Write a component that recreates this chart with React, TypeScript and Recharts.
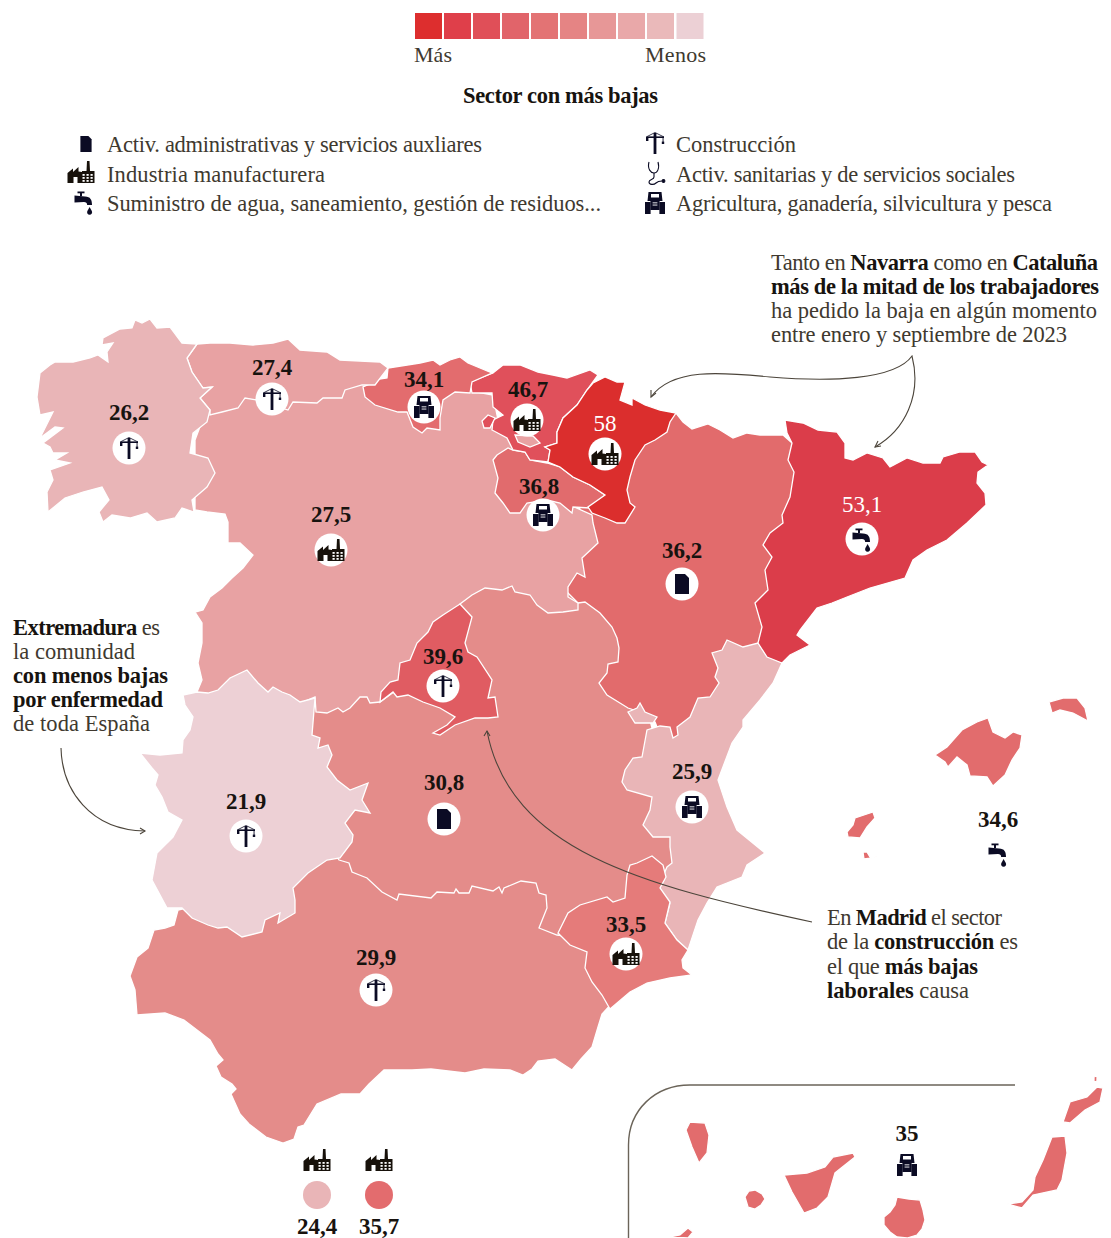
import React from "react";
import { ScatterChart, Scatter, XAxis, YAxis } from "recharts";

type Pt = { x: number; y: number };
type Sector = "doc" | "factory" | "tap" | "crane" | "tractor" | "steth";

const WIDTH = 1111;
const HEIGHT = 1238;
const SERIF = "'Liberation Serif', serif";
const INK = "#17130f";
const NAVY = "#0b0b24";
const SOFT = "#40392f";

// outlines, as flat x,y runs in picture units
const andalucia = [178,910,174,925,165,928,154,930,148,948,137,957,130,976,135,990,137,1015,165,1013,184,1020,210,1040,218,1054,223,1060,216,1066,221,1077,232,1084,236,1089,231,1094,240,1114,249,1124,266,1137,283,1143,294,1139,298,1127,304,1125,317,1104,341,1094,360,1094,369,1084,384,1070,412,1070,431,1069,465,1073,484,1069,510,1070,523,1075,532,1069,538,1061,555,1059,572,1070,581,1059,592,1047,598,1027,602,1014,615,1000,650,960,620,900,560,880,400,850,320,850,220,900];
const castillaMancha = [339,860,349,863,352,872,367,878,382,892,397,900,399,894,431,898,437,892,454,893,456,889,459,893,469,893,472,886,493,891,499,887,502,893,504,888,521,881,536,883,539,893,546,895,547,908,539,928,557,935,600,940,650,890,680,855,680,800,660,760,650,720,640,650,600,600,470,560,450,650,300,700,300,800];
const aragon = [676,413,683,422,692,429,708,424,720,430,733,438,747,433,760,435,783,435,800,450,800,500,790,600,785,645,750,670,700,720,690,735,660,745,657,727,655,722,640,712,628,708,607,695,599,683,607,673,608,664,618,662,619,648,617,638,612,627,600,613,585,602,578,603,560,585,560,540,585,500,620,470,640,440];
const castillaLeon = [195,510,207,512,225,514,228,522,228,543,240,543,253,555,243,568,232,578,222,588,210,597,203,610,195,612,202,623,202,643,198,663,202,680,197,692,260,720,315,697,316,712,327,713,338,708,343,712,350,708,360,697,367,697,370,703,380,702,410,680,440,640,460,604,472,595,485,588,502,590,512,586,515,592,530,595,537,605,548,613,563,612,578,610,578,603,568,597,568,587,577,573,585,577,582,558,598,543,593,523,592,515,570,505,560,480,500,430,493,395,440,385,280,380,210,400,195,440];
const extremadura = [140,753,152,768,158,775,155,785,162,797,168,812,182,820,173,837,157,853,152,880,167,908,182,908,192,918,208,925,218,928,227,927,242,937,262,932,265,920,280,913,278,923,295,913,295,900,293,888,308,873,327,860,340,858,352,842,353,835,345,823,355,810,370,813,362,800,368,783,350,790,337,780,327,767,332,755,328,745,318,748,320,738,312,735,315,698,300,702,290,695,282,692,273,687,268,692,258,683,247,670,230,678,218,690,208,693,197,692,183,695,185,705,193,717,190,730,183,740,182,753,160,755];
const madrid = [460,604,472,617,465,643,468,652,477,657,492,680,488,698,495,697,498,717,488,718,475,718,455,725,440,735,433,733,447,725,455,717,440,708,423,702,408,695,397,697,393,692,380,702,381,692,390,682,398,680,400,663,410,660,417,643,428,632,433,622,443,615];
const valencia = [782,663,773,683,760,700,743,720,743,727,732,743,718,780,727,807,737,830,765,853,747,865,742,877,717,887,707,903,698,920,688,950,677,940,665,923,670,903,660,895,660,883,667,867,672,863,670,847,670,837,653,837,643,825,650,810,652,797,627,790,622,782,625,770,633,758,642,757,647,730,660,726,670,727,673,738,678,735,677,727,690,717,698,698,710,697,719,683,715,677,718,668,712,653,722,650,727,640,743,647,758,643,765,653];
const ademuz = [628,712,637,708,640,703,645,712,657,717,653,723,635,723];
const murcia = [630,865,637,863,652,856,663,865,666,877,660,888,670,902,665,923,677,940,688,950,682,960,683,968,692,975,670,978,647,983,630,992,610,1009,602,995,592,982,585,968,587,952,570,945,558,933,568,913,580,905,607,897,613,902,625,898,627,875];
const cataluna = [785,420,803,423,818,430,837,432,845,443,845,458,853,460,867,453,883,458,890,467,907,458,923,463,940,463,943,457,960,452,975,452,982,462,988,465,978,472,977,483,985,493,986,505,967,523,947,540,927,550,913,560,905,578,870,588,847,597,832,603,817,608,800,630,797,635,810,645,790,655,782,663,767,657,758,643,762,627,755,603,768,590,765,570,772,557,763,545,770,533,783,523,782,515,790,497,794,472,788,460,792,443,787,433];
const rioja = [497,455,508,448,513,450,525,452,530,460,547,463,560,467,573,477,590,485,605,495,590,508,573,507,572,513,560,503,547,500,527,503,520,513,510,513,503,503,495,493,498,478,493,460];
const paisVasco = [472,393,470,382,493,373,503,365,520,365,538,372,553,375,567,378,590,370,598,375,587,390,577,405,563,418,557,432,557,443,545,447,550,450,548,462,530,460,525,452,513,450,507,438,492,430,493,420,503,415,493,407,492,393];
const trevino = [515,435,533,436,540,443,530,447,518,442];
const orduna = [482,421,488,415,495,418,490,428,484,428];
const navarra = [593,383,605,377,617,382,625,382,620,400,632,405,632,398,645,405,660,410,676,413,670,422,667,432,655,440,645,445,635,460,630,477,627,490,630,503,635,507,625,523,617,523,605,518,592,513,588,507,605,495,590,485,573,477,560,467,548,462,550,450,545,447,557,443,557,432,563,418,577,405,587,390];
const cantabria = [388,368,387,378,373,380,372,383,363,387,365,397,375,405,398,412,407,412,413,427,422,433,427,428,440,430,440,418,443,400,455,392,470,393,472,382,492,373,468,363,460,357,450,360,440,365,433,360,420,363];
const asturias = [197,344,210,343,230,343,253,345,273,343,288,339,300,350,327,352,340,360,380,362,388,368,375,385,362,385,345,390,342,398,323,398,317,403,293,402,288,410,257,400,245,398,238,408,222,412,210,415,210,410,200,398,212,387,203,388,192,372,187,358];
const galicia = [40,373,50,365,55,362,73,362,90,358,98,355,108,362,107,352,113,343,102,345,103,338,120,329,132,328,135,320,142,323,150,319,157,328,170,327,182,343,197,344,187,358,192,372,203,388,212,387,200,398,210,410,207,422,193,433,190,453,208,458,215,473,207,487,192,500,194,512,182,508,175,518,157,522,147,513,130,518,112,515,103,522,99,512,109,500,102,487,83,492,65,498,48,512,47,492,53,480,50,470,70,463,55,460,67,453,53,453,50,447,43,443,63,428,55,427,40,438,53,412,40,415,37,397];
const mallorca = [935,755,947,747,962,730,977,722,988,718,993,732,1005,738,1013,732,1022,735,1020,748,1012,760,1005,775,993,786,987,777,970,776,967,765,957,757,948,767,945,762];
const menorca = [1049,702,1063,698,1077,698,1085,708,1088,721,1073,713,1060,710,1052,713];
const ibiza = [847,832,853,825,855,818,873,812,875,818,867,827,860,838,848,837];
const formentera = [863,852,867,852,870,857,877,856,872,858,864,859];
const laPalma = [686,1130,690,1122,705,1123,709,1135,707,1153,699,1163,692,1147];
const gomera = [745,1197,749,1191,755,1190,762,1194,765,1199,761,1205,755,1209,748,1207];
const tenerife = [784,1175,807,1173,825,1167,833,1157,853,1153,855,1157,835,1173,828,1197,817,1208,804,1213,792,1192];
const granCanaria = [897,1197,909,1199,920,1200,923,1210,925,1220,922,1229,917,1235,907,1238,897,1237,890,1232,884,1225,884,1217,890,1212,895,1205];
const hierro = [669,1237,680,1235,688,1228,693,1232,688,1238];
const lanzarote = [1063,1122,1070,1102,1087,1097,1097,1087,1103,1088,1100,1102,1085,1110,1070,1123];
const graciosa = [1094,1077,1097,1076,1097,1081,1094,1082];
const fuerteventura = [1052,1137,1065,1136,1067,1153,1062,1180,1057,1190,1033,1195,1022,1208,1007,1204,1022,1202,1033,1190,1035,1177,1043,1160];

// bottom layers first, each region draws the border it shares with the ones below
const regionLayers: [string, number[], string][] = [
  ["Andalucía", andalucia, "#e48c8a"],
  ["Castilla-La Mancha", castillaMancha, "#e48c8a"],
  ["Aragón", aragon, "#e26b6c"],
  ["Castilla y León", castillaLeon, "#e8a2a3"],
  ["Extremadura", extremadura, "#edd0d5"],
  ["Madrid", madrid, "#e05c62"],
  ["Valencia", valencia, "#e9b5b7"],
  ["Rincón de Ademuz", ademuz, "#e9b5b7"],
  ["Murcia", murcia, "#e57b7a"],
  ["Cataluña", cataluna, "#db3d4a"],
  ["La Rioja", rioja, "#e16b6d"],
  ["País Vasco", paisVasco, "#e0505b"],
  ["Treviño", trevino, "#e8a2a3"],
  ["Orduña", orduna, "#e0505b"],
  ["Navarra", navarra, "#db2e2d"],
  ["Cantabria", cantabria, "#e36c6e"],
  ["Asturias", asturias, "#e8a2a3"],
  ["Galicia", galicia, "#e9b5b7"],
  ["Mallorca", mallorca, "#e26c6d"],
  ["Menorca", menorca, "#e26c6d"],
  ["Ibiza", ibiza, "#e26c6d"],
  ["Formentera", formentera, "#e26c6d"],
  ["La Palma", laPalma, "#e26c6d"],
  ["La Gomera", gomera, "#e26c6d"],
  ["Tenerife", tenerife, "#e26c6d"],
  ["Gran Canaria", granCanaria, "#e26c6d"],
  ["El Hierro", hierro, "#e26c6d"],
  ["Lanzarote", lanzarote, "#e26c6d"],
  ["La Graciosa", graciosa, "#e26c6d"],
  ["Fuerteventura", fuerteventura, "#e26c6d"],
];

const markerValues = ["26,2", "27,4", "34,1", "46,7", "58", "36,8", "27,5", "36,2", "53,1", "39,6", "21,9", "30,8", "25,9", "33,5", "29,9"];
const markerSectors: Sector[] = ["crane", "crane", "tractor", "factory", "factory", "tractor", "factory", "doc", "tap", "crane", "crane", "doc", "tractor", "factory", "crane"];
const markerX = [129, 272, 424, 527, 605, 543, 331, 682, 862, 443, 246, 444, 692, 626, 376];
const markerY = [448, 399, 407, 420, 454, 515, 550, 584, 539, 686, 836, 819, 807, 954, 990];
const labelX = [129, 272, 424, 528, 605, 539, 331, 682, 862, 443, 246, 444, 692, 626, 376];
const labelBase = [420, 375, 387, 397, 431, 494, 522, 558, 512, 664, 809, 790, 779, 932, 965];
const lightLabels = ["58", "53,1"];

const scaleColors = ["#dd2e2e", "#df3f4a", "#e04f58", "#e1646a", "#e37374", "#e58484", "#e79797", "#e9a8a9", "#eab9ba", "#ecd0d5"];
const scaleX = [428.5, 457.5, 486.5, 515.5, 544.5, 573.5, 602.5, 631.5, 660.5, 690];

const sectorNames: Sector[] = ["doc", "factory", "tap", "crane", "steth", "tractor"];
const sectorLabels = [
  "Activ. administrativas y servicios auxliares",
  "Industria manufacturera",
  "Suministro de agua, saneamiento, gestión de residuos...",
  "Construcción",
  "Activ. sanitarias y de servicios sociales",
  "Agricultura, ganadería, silvicultura y pesca",
];
const sectorIconX = [86, 81, 84, 655, 656, 655];
const sectorIconY = [144, 172, 202, 143, 173, 203];
const sectorTextX = [107, 107, 107, 676, 676, 676];
const sectorTextY = [152, 182, 211, 152, 182, 211];
const sectorTextW = [375, 218, 494, 120, 339, 376];

const noteNavarra = ["Tanto en **Navarra** como en **Cataluña**", "**más de la mitad de los trabajadores**", "ha pedido la baja en algún momento", "entre enero y septiembre de 2023"];
const noteNavarraW = [327, 328, 326, 296];
const noteExtremadura = ["**Extremadura** es", "la comunidad", "**con menos bajas**", "**por enfermedad**", "de toda España"];
const noteExtremaduraW = [147, 122, 155, 150, 137];
const noteMadrid = ["En **Madrid** el sector", "de la **construcción** es", "el que **más bajas**", "**laborales** causa"];
const noteMadridW = [175, 191, 151, 142];

const toPoints = (run: number[]): Pt[] => {
  const pts: Pt[] = [];
  for (let i = 0; i < run.length; i += 2) pts.push({ x: run[i], y: run[i + 1] });
  return pts;
};

const Icon = ({ kind, x, y, scale = 1 }: { kind: Sector; x: number; y: number; scale?: number }) => {
  const t = `translate(${x} ${y}) scale(${scale})`;
  if (kind === "doc") {
    return <path transform={t} fill={NAVY} d="M-7 -10H3L7 -6V10H-7Z" />;
  }
  if (kind === "factory") {
    return (
      <g transform={t}>
        <path fill="#17110a" d="M-13.5 11V1L-8 -3.5V0L-2.5 -5V-0.5L1 0V-1H5.5L6 -11H8.5L9 -1H13.5V11H-3.5V5H-7.5V11Z" />
        {[1.5, 5.5, 9.5].map((wx) =>
          [2, 5, 8].map((wy) => <rect key={`${wx}-${wy}`} x={wx} y={wy} width={2.2} height={1.8} fill="#fff" />),
        )}
      </g>
    );
  }
  if (kind === "crane") {
    return (
      <g transform={t} fill={NAVY} stroke="none">
        <rect x={-1.4} y={-10} width={2.8} height={21} />
        <rect x={-9} y={-6.6} width={18} height={1.6} />
        <rect x={-9} y={-6} width={2.4} height={4} />
        <path d="M0 -10.5L9 -6" stroke={NAVY} strokeWidth={0.8} fill="none" />
        <path d="M0 -10.5L-8 -6.4" stroke={NAVY} strokeWidth={0.8} fill="none" />
        <rect x={7.6} y={-5} width={0.9} height={4} />
        <rect x={6.8} y={-1.4} width={2.4} height={2.4} />
      </g>
    );
  }
  if (kind === "tap") {
    return (
      <g transform={t} fill={NAVY}>
        <rect x={-6.5} y={-10.5} width={7} height={1.8} />
        <rect x={-4} y={-10} width={2} height={4} />
        <path d="M-9.5 -6.5L1 -5.5C6.5 -5.5 8 -2 8 3H3.2C3 0.8 2 0 0 0L-9.5 0.6Z" />
        <path d="M5.6 5L7.8 9A2.5 2.5 0 1 1 3.4 9Z" />
      </g>
    );
  }
  if (kind === "tractor") {
    return (
      <g transform={t} fill={NAVY}>
        <path fillRule="evenodd" d="M-6.5 -11H6.5L7.5 -2H-7.5ZM-4 -9V-5.5H4V-9Z" />
        <rect x={-10} y={-1} width={5.6} height={12} />
        <rect x={4.4} y={-1} width={5.6} height={12} />
        <rect x={-4.6} y={-2} width={9.2} height={9} />
        <rect x={-2.4} y={-0.6} width={4.8} height={0.9} fill="#fff" />
        <rect x={-2.4} y={1.6} width={4.8} height={0.9} fill="#fff" />
      </g>
    );
  }
  return (
    <g transform={t} fill="none" stroke={NAVY} strokeWidth={1.1}>
      <path d="M-7 -11C-9 -4 -5 0 -2 0C1 0 4 -4 2 -11" />
      <path d="M-2 0V4C-2 7 -7 6 -7 9C-7 12 -2 12 0 10C2 8 4 8 6 8" />
      <circle cx={7.5} cy={8} r={1.4} fill={NAVY} />
    </g>
  );
};

const RichText = ({ lines, widths, x, y, step, size }: { lines: string[]; widths: number[]; x: number; y: number; step: number; size: number }) => (
  <g>
    {lines.map((line, i) => (
      <text key={i} x={x} y={y + i * step} fontFamily={SERIF} fontSize={size} fill={SOFT} textLength={widths[i]} lengthAdjust="spacing">
        {line.split("**").map((part, j) =>
          j % 2 ? (
            <tspan key={j} fontWeight={700} fill={INK}>
              {part}
            </tspan>
          ) : (
            <tspan key={j}>{part}</tspan>
          ),
        )}
      </text>
    ))}
  </g>
);

const Arrow = ({ d }: { d: string }) => <path d={d} fill="none" stroke="#4c453b" strokeWidth={1.1} />;

const markerData = markerValues.map((value, i) => ({
  x: markerX[i],
  y: markerY[i],
  value,
  sector: markerSectors[i],
  labelX: labelX[i],
  labelBase: labelBase[i],
}));
const islandData = [
  { x: 998, y: 854, value: "34,6", sector: "tap" as Sector, base: 827 },
  { x: 907, y: 1165, value: "35", sector: "tractor" as Sector, base: 1141 },
];
const cityData = [
  { x: 317, y: 1195, value: "24,4", fill: "#e9b5b7" },
  { x: 379, y: 1195, value: "35,7", fill: "#e36c6e" },
];
const scaleData = scaleColors.map((fill, i) => ({ x: scaleX[i], y: 26, fill }));
const sectorData = sectorNames.map((sector, i) => ({
  x: sectorIconX[i],
  y: sectorIconY[i],
  sector,
  label: sectorLabels[i],
  textX: sectorTextX[i],
  textY: sectorTextY[i],
  textW: sectorTextW[i],
}));

const noShape = () => <g />;

const MarkerShape = (props: any) => {
  const { cx, cy, payload } = props;
  const light = lightLabels.includes(payload.value);
  return (
    <g>
      <circle cx={cx} cy={cy} r={16.5} fill="#fff" />
      <Icon kind={payload.sector} x={cx} y={cy} />
      <text x={payload.labelX} y={payload.labelBase} textAnchor="middle" fontFamily={SERIF} fontSize={23} fontWeight={light ? 400 : 700} fill={light ? "#fff" : INK}>
        {payload.value}
      </text>
    </g>
  );
};

const IslandShape = (props: any) => {
  const { cx, cy, payload } = props;
  return (
    <g>
      <Icon kind={payload.sector} x={cx} y={cy} />
      <text x={cx} y={payload.base} textAnchor="middle" fontFamily={SERIF} fontSize={23} fontWeight={700} fill={INK}>
        {payload.value}
      </text>
    </g>
  );
};

const CityShape = (props: any) => {
  const { cx, cy, payload } = props;
  return (
    <g>
      <Icon kind="factory" x={cx} y={cy - 35} />
      <circle cx={cx} cy={cy} r={14} fill={payload.fill} />
      <text x={cx} y={cy + 39} textAnchor="middle" fontFamily={SERIF} fontSize={23} fontWeight={700} fill={INK}>
        {payload.value}
      </text>
    </g>
  );
};

const ScaleShape = (props: any) => {
  const { cx, cy, payload } = props;
  return <rect x={cx - 13.5} y={cy - 13} width={27} height={26} fill={payload.fill} />;
};

const SectorShape = (props: any) => {
  const { cx, cy, payload } = props;
  return (
    <g>
      <Icon kind={payload.sector} x={cx} y={cy} scale={payload.sector === "doc" ? 0.8 : 1} />
      <text x={payload.textX} y={payload.textY} fontFamily={SERIF} fontSize={22.5} fill={SOFT} textLength={payload.textW} lengthAdjust="spacing">
        {payload.label}
      </text>
    </g>
  );
};

// arrows, inset frame and notes go above the map
const OverlayShape = () => (
  <g>
    <text x={414} y={62} fontFamily={SERIF} fontSize={22} fill={SOFT} textLength={38}>Más</text>
    <text x={645} y={62} fontFamily={SERIF} fontSize={22} fill={SOFT} textLength={61}>Menos</text>
    <text x={463} y={103} fontFamily={SERIF} fontSize={22.5} fontWeight={700} fill={INK} textLength={195}>Sector con más bajas</text>
    <RichText lines={noteNavarra} widths={noteNavarraW} x={771} y={270} step={24} size={22.5} />
    <RichText lines={noteExtremadura} widths={noteExtremaduraW} x={13} y={635} step={24} size={22.5} />
    <RichText lines={noteMadrid} widths={noteMadridW} x={827} y={925} step={24.3} size={22.5} />
    <Arrow d="M651 397C672 368 720 372 770 377C830 382 895 380 912 356C922 395 905 430 875 447" />
    <Arrow d="M656 393L651 397L651 390" />
    <Arrow d="M881 446L875 447L878 441" />
    <Arrow d="M61 748C62 790 90 830 145 831" />
    <Arrow d="M140 828L145 831L140 834" />
    <Arrow d="M812 922C640 885 510 850 487 731" />
    <Arrow d="M484 736L487 731L490 736" />
    <path d="M628.5 1238V1145C628.5 1110 655 1085 690 1085H1015" fill="none" stroke="#6b6459" strokeWidth={1.4} />
  </g>
);

export default function App() {
  return (
    <div style={{ position: "absolute", left: 0, top: 0, width: WIDTH, height: HEIGHT, background: "#fff" }}>
      <ScatterChart width={WIDTH} height={HEIGHT} margin={{ top: 0, right: 0, bottom: 0, left: 0 }}>
        <XAxis type="number" dataKey="x" domain={[0, WIDTH]} hide allowDataOverflow />
        <YAxis type="number" dataKey="y" domain={[0, HEIGHT]} reversed hide allowDataOverflow />
        {regionLayers.map(([name, run, fill]) => (
          <Scatter
            key={name}
            name={name}
            data={toPoints(run)}
            shape={noShape}
            line={{ fill, stroke: "#fff", strokeWidth: 1.3 }}
            lineType="joint"
            lineJointType="linearClosed"
            isAnimationActive={false}
          />
        ))}
        <Scatter data={scaleData} shape={ScaleShape} isAnimationActive={false} />
        <Scatter data={sectorData} shape={SectorShape} isAnimationActive={false} />
        <Scatter data={markerData} shape={MarkerShape} isAnimationActive={false} />
        <Scatter data={islandData} shape={IslandShape} isAnimationActive={false} />
        <Scatter data={cityData} shape={CityShape} isAnimationActive={false} />
        <Scatter data={[{ x: 0, y: 0 }]} shape={OverlayShape} isAnimationActive={false} />
      </ScatterChart>
    </div>
  );
}
